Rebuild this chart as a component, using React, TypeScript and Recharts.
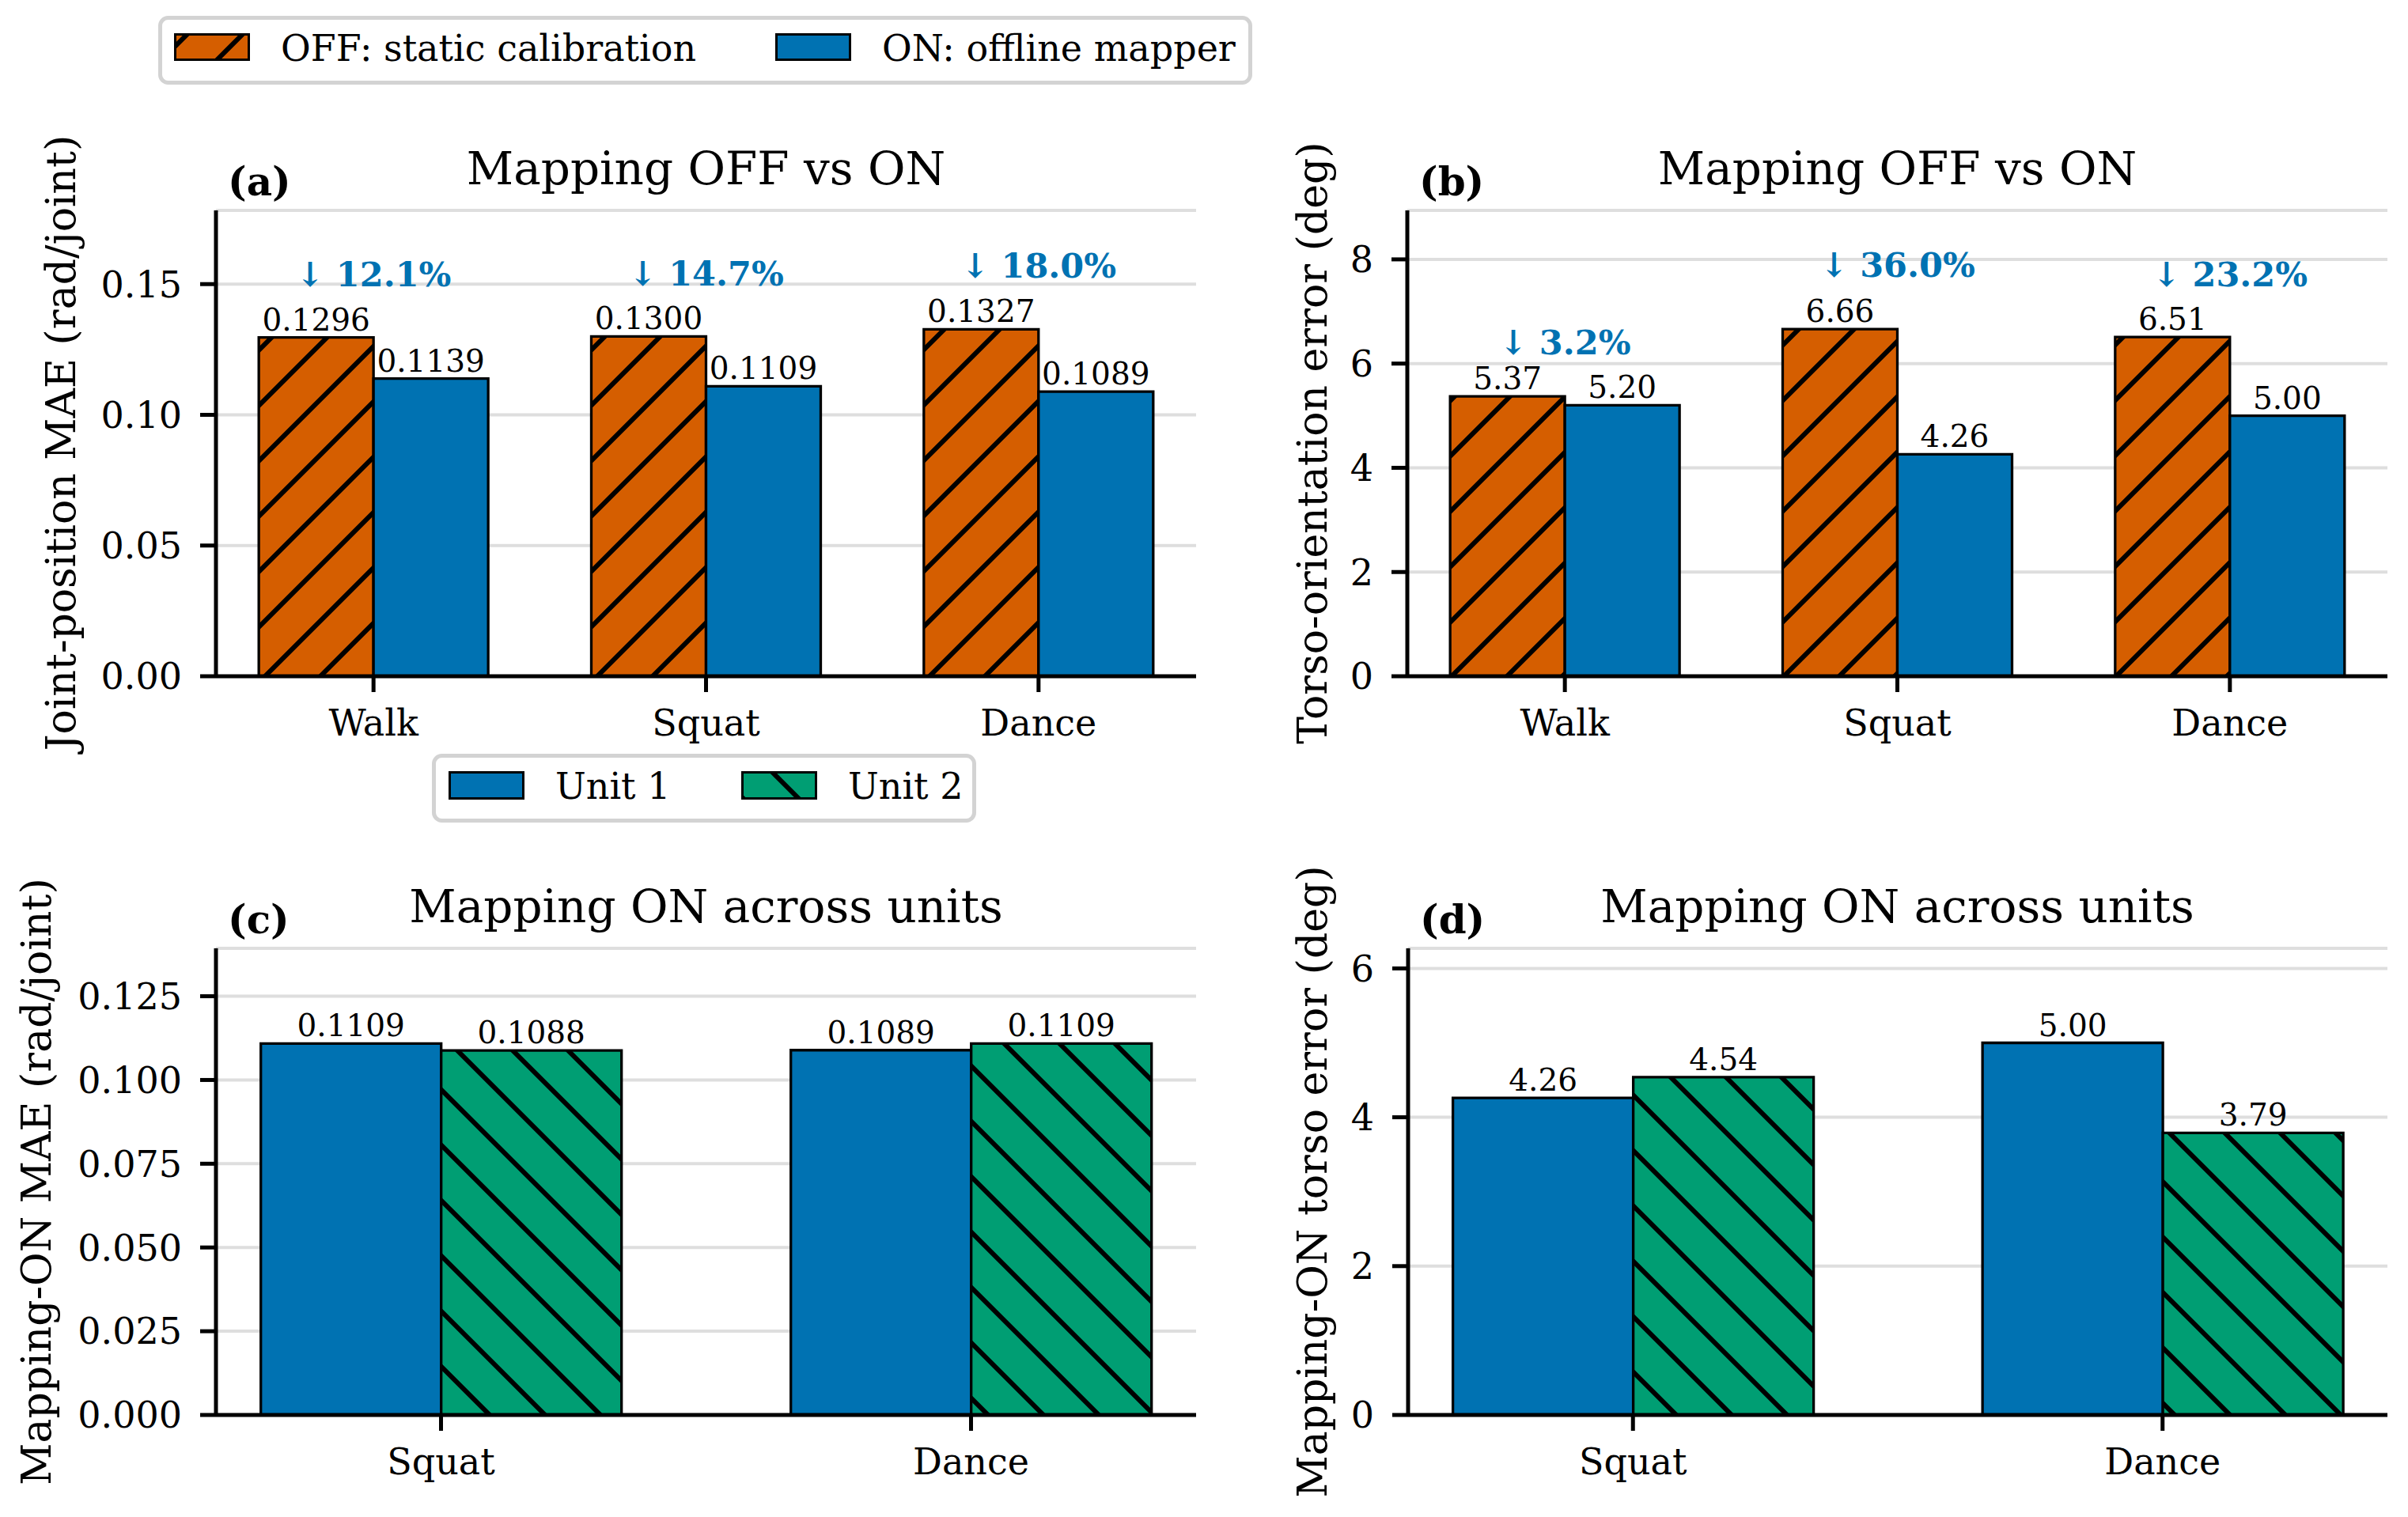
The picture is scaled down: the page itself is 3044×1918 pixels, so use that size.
import React from "react";
import { BarChart, Bar, XAxis, YAxis, CartesianGrid, LabelList, ReferenceDot } from "recharts";

const FONT = '"DejaVu Serif", serif';
const ORANGE = "#D55E00";
const BLUE = "#0072B2";
const GREEN = "#009E73";

// top row: mapping OFF vs ON
const activities = ["Walk", "Squat", "Dance"];
const jointOff = [0.1296, 0.13, 0.1327];
const jointOn = [0.1139, 0.1109, 0.1089];
const jointDrop = [12.1, 14.7, 18.0];
const torsoOff = [5.37, 6.66, 6.51];
const torsoOn = [5.2, 4.26, 5.0];
const torsoDrop = [3.2, 36.0, 23.2];

// bottom row: mapping ON, unit 1 vs unit 2
const unitActivities = ["Squat", "Dance"];
const unit1Joint = [0.1109, 0.1089];
const unit2Joint = [0.1088, 0.1109];
const unit1Torso = [4.26, 5.0];
const unit2Torso = [4.54, 3.79];

const jointTicks = [0, 0.05, 0.1, 0.15];
const torsoTicks = [0, 2, 4, 6, 8];
const unitJointTicks = [0, 0.025, 0.05, 0.075, 0.1, 0.125];
const unitTorsoTicks = [0, 2, 4, 6];

const modeNames = ["OFF: static calibration", "ON: offline mapper"];
const unitNames = ["Unit 1", "Unit 2"];

const rowsOf = (cats: string[], a: number[], b: number[]) =>
  cats.map((cat, i) => ({ cat, a: a[i], b: b[i] }));

type PanelProps = {
  left: number;
  top: number;
  width: number;
  height: number;
  margin: { top: number; right: number; bottom: number; left: number };
  yAxisWidth: number;
  xPad: number;
  gap: string;
  rows: { cat: string; a: number; b: number }[];
  names: string[];
  fills: string[];
  domain: [number, number];
  ticks: number[];
  tickDigits: number;
  labelDigits: number;
  drops?: number[];
};

function Panel(p: PanelProps) {
  const axisStroke = { stroke: "#000", strokeWidth: 5 };
  const tickStyle = { fill: "#000", fontSize: 46, fontFamily: FONT };
  const valueLabel = {
    position: "top" as const,
    offset: 9,
    fill: "#000",
    fontSize: 39,
    fontFamily: FONT,
    formatter: (v: any) => Number(v).toFixed(p.labelDigits),
  };
  return (
    <div style={{ position: "absolute", left: p.left, top: p.top }}>
      <BarChart
        width={p.width}
        height={p.height}
        data={p.rows}
        margin={p.margin}
        barCategoryGap={p.gap}
        barGap={0}
      >
        <CartesianGrid vertical={false} stroke="#dedede" strokeWidth={4} />
        <XAxis
          dataKey="cat"
          type="category"
          interval={0}
          height={100}
          padding={{ left: p.xPad, right: p.xPad }}
          tickSize={20}
          tickMargin={22}
          axisLine={axisStroke}
          tickLine={axisStroke}
          tick={tickStyle}
        />
        <YAxis
          type="number"
          domain={p.domain}
          ticks={p.ticks}
          allowDataOverflow
          interval={0}
          width={p.yAxisWidth}
          tickSize={20}
          tickMargin={23}
          axisLine={axisStroke}
          tickLine={axisStroke}
          tick={tickStyle}
          tickFormatter={(v: number) => v.toFixed(p.tickDigits)}
        />
        <Bar dataKey="a" name={p.names[0]} fill={p.fills[0]} stroke="#000" strokeWidth={3.3} isAnimationActive={false}>
          <LabelList dataKey="a" {...valueLabel} />
        </Bar>
        <Bar dataKey="b" name={p.names[1]} fill={p.fills[1]} stroke="#000" strokeWidth={3.3} isAnimationActive={false}>
          <LabelList dataKey="b" {...valueLabel} />
        </Bar>
        {p.drops &&
          p.rows.map((r, i) => (
            <ReferenceDot
              key={r.cat}
              x={r.cat}
              y={Math.max(r.a, r.b) * 1.15}
              r={0}
              fill="none"
              stroke="none"
              label={{
                value: `↓ ${p.drops![i].toFixed(1)}%`,
                position: "top",
                offset: 0,
                fill: BLUE,
                fontSize: 43,
                fontWeight: "bold",
                fontFamily: FONT,
              }}
            />
          ))}
      </BarChart>
    </div>
  );
}

function Overlay() {
  const txt = { fontFamily: FONT, fill: "#000" };
  return (
    <svg
      width={3044}
      height={1918}
      style={{ position: "absolute", left: 0, top: 0, pointerEvents: "none" }}
    >
      <defs>
        <pattern id="hatchFwd" patternUnits="userSpaceOnUse" width={70} height={70}>
          <rect width={70} height={70} fill={ORANGE} />
          <path d="M-10,10 L10,-10 M-5,75 L75,-5 M60,80 L80,60" stroke="#000" strokeWidth={6} />
        </pattern>
        <pattern id="hatchBack" patternUnits="userSpaceOnUse" width={70} height={70}>
          <rect width={70} height={70} fill={GREEN} />
          <path d="M-10,60 L10,80 M-5,-5 L75,75 M60,-10 L80,10" stroke="#000" strokeWidth={6} />
        </pattern>
      </defs>

      {/* titles */}
      <text {...txt} x={892.5} y={233} textAnchor="middle" fontSize={58}>Mapping OFF vs ON</text>
      <text {...txt} x={2398.5} y={233} textAnchor="middle" fontSize={58}>Mapping OFF vs ON</text>
      <text {...txt} x={892.5} y={1166} textAnchor="middle" fontSize={58}>Mapping ON across units</text>
      <text {...txt} x={2398.5} y={1166} textAnchor="middle" fontSize={58}>Mapping ON across units</text>

      {/* panel letters */}
      <text {...txt} x={288} y={247} fontSize={50} fontWeight="bold">(a)</text>
      <text {...txt} x={1794} y={247} fontSize={50} fontWeight="bold">(b)</text>
      <text {...txt} x={288} y={1180} fontSize={50} fontWeight="bold">(c)</text>
      <text {...txt} x={1795} y={1180} fontSize={50} fontWeight="bold">(d)</text>

      {/* y-axis labels */}
      <text {...txt} transform="translate(95,560) rotate(-90)" textAnchor="middle" fontSize={52}>
        Joint-position MAE (rad/joint)
      </text>
      <text {...txt} transform="translate(1677,560) rotate(-90)" textAnchor="middle" fontSize={52}>
        Torso-orientation error (deg)
      </text>
      <text {...txt} transform="translate(64,1494) rotate(-90)" textAnchor="middle" fontSize={52}>
        Mapping-ON MAE (rad/joint)
      </text>
      <text {...txt} transform="translate(1677,1494) rotate(-90)" textAnchor="middle" fontSize={52}>
        Mapping-ON torso error (deg)
      </text>

      {/* legend: OFF / ON */}
      <rect x={202.5} y={22.5} width={1378} height={82} rx={10} fill="#fff" stroke="#d3d3d3" strokeWidth={5} />
      <rect x={221.5} y={43.5} width={93} height={32} fill="url(#hatchFwd)" stroke="#000" strokeWidth={3} />
      <text {...txt} x={355} y={77} fontSize={46}>{modeNames[0]}</text>
      <rect x={981.5} y={43.5} width={93} height={32} fill={BLUE} stroke="#000" strokeWidth={3} />
      <text {...txt} x={1115} y={77} fontSize={46}>{modeNames[1]}</text>

      {/* legend: units */}
      <rect x={548.5} y={955.5} width={683} height={82} rx={10} fill="#fff" stroke="#d3d3d3" strokeWidth={5} />
      <rect x={568.5} y={976.5} width={93} height={33} fill={BLUE} stroke="#000" strokeWidth={3} />
      <text {...txt} x={702} y={1010} fontSize={46}>{unitNames[0]}</text>
      <rect x={938.5} y={976.5} width={93} height={33} fill="url(#hatchBack)" stroke="#000" strokeWidth={3} />
      <text {...txt} x={1072} y={1010} fontSize={46}>{unitNames[1]}</text>
    </svg>
  );
}

export default function App() {
  return (
    <div
      style={{
        position: "absolute",
        left: 0,
        top: 0,
        width: 3044,
        height: 1918,
        background: "#fff",
        fontFamily: FONT,
      }}
    >
      <Panel
        left={0}
        top={0}
        width={1540}
        height={960}
        margin={{ top: 266, right: 28, bottom: 5, left: 0 }}
        yAxisWidth={273}
        xPad={-11}
        gap="15.5%"
        rows={rowsOf(activities, jointOff, jointOn)}
        names={modeNames}
        fills={["url(#hatchFwd)", BLUE]}
        domain={[0, 0.1782]}
        ticks={jointTicks}
        tickDigits={2}
        labelDigits={4}
        drops={jointDrop}
      />
      <Panel
        left={1500}
        top={0}
        width={1544}
        height={960}
        margin={{ top: 266, right: 26, bottom: 5, left: 0 }}
        yAxisWidth={279}
        xPad={-11}
        gap="15.5%"
        rows={rowsOf(activities, torsoOff, torsoOn)}
        names={modeNames}
        fills={["url(#hatchFwd)", BLUE]}
        domain={[0, 8.94]}
        ticks={torsoTicks}
        tickDigits={0}
        labelDigits={2}
        drops={torsoDrop}
      />
      <Panel
        left={0}
        top={960}
        width={1540}
        height={958}
        margin={{ top: 239, right: 28, bottom: 29, left: 0 }}
        yAxisWidth={273}
        xPad={-50.5}
        gap="16%"
        rows={rowsOf(unitActivities, unit1Joint, unit2Joint)}
        names={unitNames}
        fills={[BLUE, "url(#hatchBack)"]}
        domain={[0, 0.1393]}
        ticks={unitJointTicks}
        tickDigits={3}
        labelDigits={4}
      />
      <Panel
        left={1500}
        top={960}
        width={1544}
        height={958}
        margin={{ top: 239, right: 26, bottom: 29, left: 0 }}
        yAxisWidth={280}
        xPad={-50.5}
        gap="16%"
        rows={rowsOf(unitActivities, unit1Torso, unit2Torso)}
        names={unitNames}
        fills={[BLUE, "url(#hatchBack)"]}
        domain={[0, 6.27]}
        ticks={unitTorsoTicks}
        tickDigits={0}
        labelDigits={2}
      />
      <Overlay />
    </div>
  );
}
